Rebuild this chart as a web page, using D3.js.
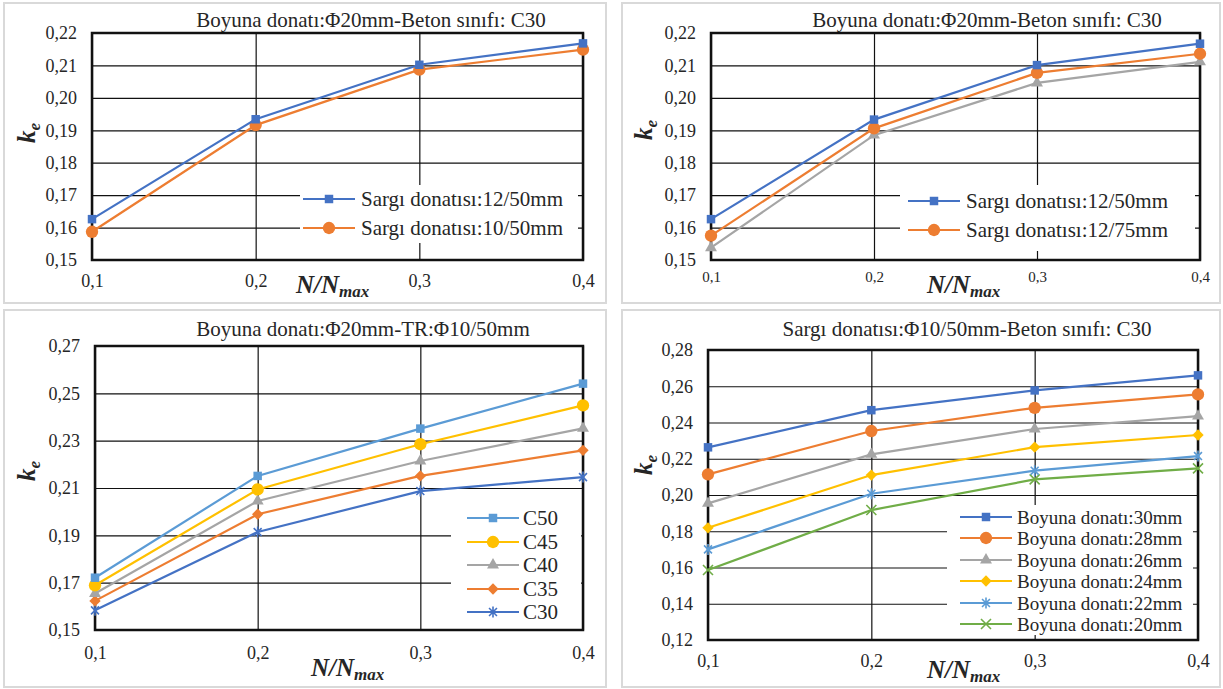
<!DOCTYPE html>
<html><head><meta charset="utf-8">
<script src="https://cdn.jsdelivr.net/npm/d3@7"></script>
<style>
body{margin:0;background:#fff}
text{font-family:"Liberation Serif","Times New Roman",serif;fill:#262626}
</style>
</head><body>
<svg id="c" width="1223" height="689"></svg>
<script>
// ---------- data ----------
const xValues = [0.1, 0.2, 0.3, 0.4];
const xTickLabels = ["0,1", "0,2", "0,3", "0,4"];

// Panel A (top-left)
const titleA = "Boyuna donatı:Φ20mm-Beton sınıfı: C30";
const namesA = ["Sargı donatısı:12/50mm", "Sargı donatısı:10/50mm"];
const a_12_50 = [0.1626, 0.1934, 0.2102, 0.2168];
const a_10_50 = [0.1587, 0.1916, 0.2087, 0.2149];
const yTicksA = [0.15, 0.16, 0.17, 0.18, 0.19, 0.20, 0.21, 0.22];
const yLabelsA = ["0,15", "0,16", "0,17", "0,18", "0,19", "0,20", "0,21", "0,22"];

// Panel B (top-right)
const titleB = "Boyuna donatı:Φ20mm-Beton sınıfı: C30";
const namesB = ["Sargı donatısı:12/50mm", "Sargı donatısı:12/75mm", ""];
const b_12_50 = [0.1626, 0.1933, 0.2101, 0.2167];
const b_12_75 = [0.1575, 0.1906, 0.2077, 0.2136];
const b_third = [0.1538, 0.1885, 0.2046, 0.2111];
const yTicksB = [0.15, 0.16, 0.17, 0.18, 0.19, 0.20, 0.21, 0.22];
const yLabelsB = ["0,15", "0,16", "0,17", "0,18", "0,19", "0,20", "0,21", "0,22"];

// Panel C (bottom-left)
const titleC = "Boyuna donatı:Φ20mm-TR:Φ10/50mm";
const namesC = ["C50", "C45", "C40", "C35", "C30"];
const c50 = [0.1721, 0.2151, 0.2351, 0.2541];
const c45 = [0.1689, 0.2094, 0.2285, 0.2449];
const c40 = [0.1654, 0.2045, 0.2214, 0.2352];
const c35 = [0.1623, 0.1989, 0.2151, 0.2259];
const c30 = [0.1583, 0.1914, 0.2087, 0.2146];
const yTicksC = [0.15, 0.17, 0.19, 0.21, 0.23, 0.25, 0.27];
const yLabelsC = ["0,15", "0,17", "0,19", "0,21", "0,23", "0,25", "0,27"];

// Panel D (bottom-right)
const titleD = "Sargı donatısı:Φ10/50mm-Beton sınıfı: C30";
const namesD = ["Boyuna donatı:30mm", "Boyuna donatı:28mm", "Boyuna donatı:26mm",
                "Boyuna donatı:24mm", "Boyuna donatı:22mm", "Boyuna donatı:20mm"];
const d30 = [0.2263, 0.2468, 0.2577, 0.2660];
const d28 = [0.2114, 0.2353, 0.2481, 0.2555];
const d26 = [0.1954, 0.2224, 0.2364, 0.2435];
const d24 = [0.1819, 0.2110, 0.2264, 0.2331];
const d22 = [0.1700, 0.2007, 0.2134, 0.2215];
const d20 = [0.1586, 0.1917, 0.2086, 0.2147];
const yTicksD = [0.12, 0.14, 0.16, 0.18, 0.20, 0.22, 0.24, 0.26, 0.28];
const yLabelsD = ["0,12", "0,14", "0,16", "0,18", "0,20", "0,22", "0,24", "0,26", "0,28"];

// ---------- styles ----------
const C = {blue:"#4472C4", orange:"#ED7D31", gray:"#A5A5A5", yellow:"#FFC000", lblue:"#5B9BD5", green:"#70AD47"};
const SERIF = '"Liberation Serif","Times New Roman",serif';

const panels = [
  {box:[4,3,602,300], plot:{l:92,r:583,t:33,b:260}, title:titleA, titleX:371, titleY:27,
   yTicks:yTicksA, yLabels:yLabelsA, xLabelDy:28, xFont:18, ke:[27,133], nx:[296,293],
   series:[{name:namesA[0], v:a_12_50, c:C.blue, m:"square"},
           {name:namesA[1], v:a_10_50, c:C.orange, m:"circle"}],
   legend:{box:[300,185,278,58], rows:[199,228], x1:303, x2:355, tx:361, font:21}},
  {box:[622,3,598,300], plot:{l:711,r:1200,t:33,b:260}, title:titleB, titleX:987, titleY:27,
   yTicks:yTicksB, yLabels:yLabelsB, xLabelDy:25, xFont:15, ke:[644,130], nx:[927,293],
   series:[{name:namesB[0], v:b_12_50, c:C.blue, m:"square"},
           {name:namesB[1], v:b_12_75, c:C.orange, m:"circle"},
           {name:namesB[2], v:b_third, c:C.gray, m:"triangle", noLegend:true}],
   legend:{box:[900,185,295,66], rows:[201,230], x1:908, x2:960, tx:966, font:21}},
  {box:[4,310,602,377], plot:{l:95,r:583,t:346,b:630}, title:titleC, titleX:363, titleY:336,
   yTicks:yTicksC, yLabels:yLabelsC, xLabelDy:30, xFont:18, ke:[27,471], nx:[311,676],
   series:[{name:namesC[0], v:c50, c:C.lblue, m:"square"},
           {name:namesC[1], v:c45, c:C.yellow, m:"circle"},
           {name:namesC[2], v:c40, c:C.gray, m:"triangle"},
           {name:namesC[3], v:c35, c:C.orange, m:"diamond"},
           {name:namesC[4], v:c30, c:C.blue, m:"star"}],
   legend:{box:[451,500,130,125], rows:[518,542,565,589,612], x1:467, x2:519, tx:523, font:21}},
  {box:[622,310,598,377], plot:{l:708,r:1198,t:350,b:640}, title:titleD, titleX:967, titleY:336,
   yTicks:yTicksD, yLabels:yLabelsD, xLabelDy:28, xFont:18, ke:[644,465], nx:[927,678],
   series:[{name:namesD[0], v:d30, c:C.blue, m:"square"},
           {name:namesD[1], v:d28, c:C.orange, m:"circle"},
           {name:namesD[2], v:d26, c:C.gray, m:"triangle"},
           {name:namesD[3], v:d24, c:C.yellow, m:"diamond"},
           {name:namesD[4], v:d22, c:C.lblue, m:"star"},
           {name:namesD[5], v:d20, c:C.green, m:"x"}],
   legend:{box:[947,505,246,130], rows:[517,538,560,581,603,624], x1:960, x2:1012, tx:1017, font:19}}
];

const svg = d3.select("#c");

function marker(g, type, color, x, y) {
  if (type === "square") {
    g.append("path").attr("d", d3.symbol(d3.symbolSquare, 72)())
      .attr("transform", `translate(${x},${y})`).attr("fill", color);
  } else if (type === "circle") {
    g.append("path").attr("d", d3.symbol(d3.symbolCircle, 120)())
      .attr("transform", `translate(${x},${y})`).attr("fill", color);
  } else if (type === "triangle") {
    g.append("path").attr("d", d3.symbol(d3.symbolTriangle, 62)())
      .attr("transform", `translate(${x},${y})`).attr("fill", color);
  } else if (type === "diamond") {
    g.append("path").attr("d", d3.symbol(d3.symbolSquare, 64)())
      .attr("transform", `translate(${x},${y}) rotate(45)`).attr("fill", color);
  } else if (type === "star") {
    const r = 5.5, k = r * 0.72;
    g.append("path").attr("d", `M0,${-r}L0,${r}M${-k},${-k}L${k},${k}M${-k},${k}L${k},${-k}`)
      .attr("transform", `translate(${x},${y})`).attr("stroke", color).attr("stroke-width", 1.6).attr("fill", "none");
  } else if (type === "x") {
    const k = 5;
    g.append("path").attr("d", `M${-k},${-k}L${k},${k}M${-k},${k}L${k},${-k}`)
      .attr("transform", `translate(${x},${y})`).attr("stroke", color).attr("stroke-width", 1.6).attr("fill", "none");
  }
}

panels.forEach(p => {
  const g = svg.append("g");
  const [bx, by, bw, bh] = p.box;
  g.append("rect").attr("x", bx).attr("y", by).attr("width", bw).attr("height", bh)
    .attr("fill", "#fff").attr("stroke", "#d9d9d9").attr("stroke-width", 2);

  const x = d3.scaleLinear().domain([xValues[0], xValues[xValues.length - 1]]).range([p.plot.l, p.plot.r]);
  const y = d3.scaleLinear().domain([p.yTicks[0], p.yTicks[p.yTicks.length - 1]]).range([p.plot.b, p.plot.t]);

  const gy = g.append("g").attr("transform", `translate(${p.plot.l},0)`)
    .call(d3.axisLeft(y).tickValues(p.yTicks).tickSize(-(p.plot.r - p.plot.l)).tickFormat((d, i) => p.yLabels[i]).tickPadding(15));
  const gx = g.append("g").attr("transform", `translate(0,${p.plot.b})`)
    .call(d3.axisBottom(x).tickValues(xValues).tickSize(-(p.plot.b - p.plot.t)).tickFormat((d, i) => xTickLabels[i]).tickPadding(p.xLabelDy - 14));
  [gy, gx].forEach(a => {
    a.attr("font-family", SERIF);
    a.select(".domain").remove();
    a.selectAll(".tick line").attr("stroke", "#111").attr("stroke-width", 1.2);
    a.selectAll(".tick text").attr("fill", "#262626").style("font-family", SERIF);
  });
  gy.selectAll(".tick text").style("font-size", "18px");
  gx.selectAll(".tick text").style("font-size", p.xFont + "px");

  g.append("rect").attr("x", p.plot.l).attr("y", p.plot.t)
    .attr("width", p.plot.r - p.plot.l).attr("height", p.plot.b - p.plot.t)
    .attr("fill", "none").attr("stroke", "#111").attr("stroke-width", 2.5);

  g.append("text").attr("x", p.titleX).attr("y", p.titleY).attr("text-anchor", "middle")
    .style("font-size", "21px").text(p.title);

  const kt = g.append("text").attr("transform", `translate(${p.ke[0] + 8},${p.ke[1]}) rotate(-90)`)
    .attr("text-anchor", "middle").style("font-weight", "bold").style("font-style", "italic").style("font-size", "25px");
  kt.append("tspan").text("k");
  kt.append("tspan").attr("dy", 5).style("font-size", "17px").text("e");

  const nt = g.append("text").attr("x", p.nx[0]).attr("y", p.nx[1])
    .style("font-weight", "bold").style("font-style", "italic").style("font-size", "25px");
  nt.append("tspan").text("N/N");
  nt.append("tspan").attr("dy", 4).style("font-size", "17px").text("max");

  const L = p.legend;
  g.append("rect").attr("x", L.box[0]).attr("y", L.box[1]).attr("width", L.box[2]).attr("height", L.box[3]).attr("fill", "#fff");

  const line = d3.line().x((d, i) => x(xValues[i])).y(d => y(d));
  p.series.slice().reverse().forEach(s => {
    g.append("path").attr("d", line(s.v)).attr("fill", "none").attr("stroke", s.c).attr("stroke-width", 2.2);
    s.v.forEach((v, i) => marker(g, s.m, s.c, x(xValues[i]), y(v)));
  });

  p.series.filter(s => !s.noLegend).forEach((s, i) => {
    const ry = L.rows[i];
    g.append("line").attr("x1", L.x1).attr("x2", L.x2).attr("y1", ry).attr("y2", ry).attr("stroke", s.c).attr("stroke-width", 2.2);
    marker(g, s.m, s.c, (L.x1 + L.x2) / 2, ry);
    g.append("text").attr("x", L.tx).attr("y", ry).attr("dy", "0.35em").style("font-size", L.font + "px").text(s.name);
  });
});
</script>
</body></html>
